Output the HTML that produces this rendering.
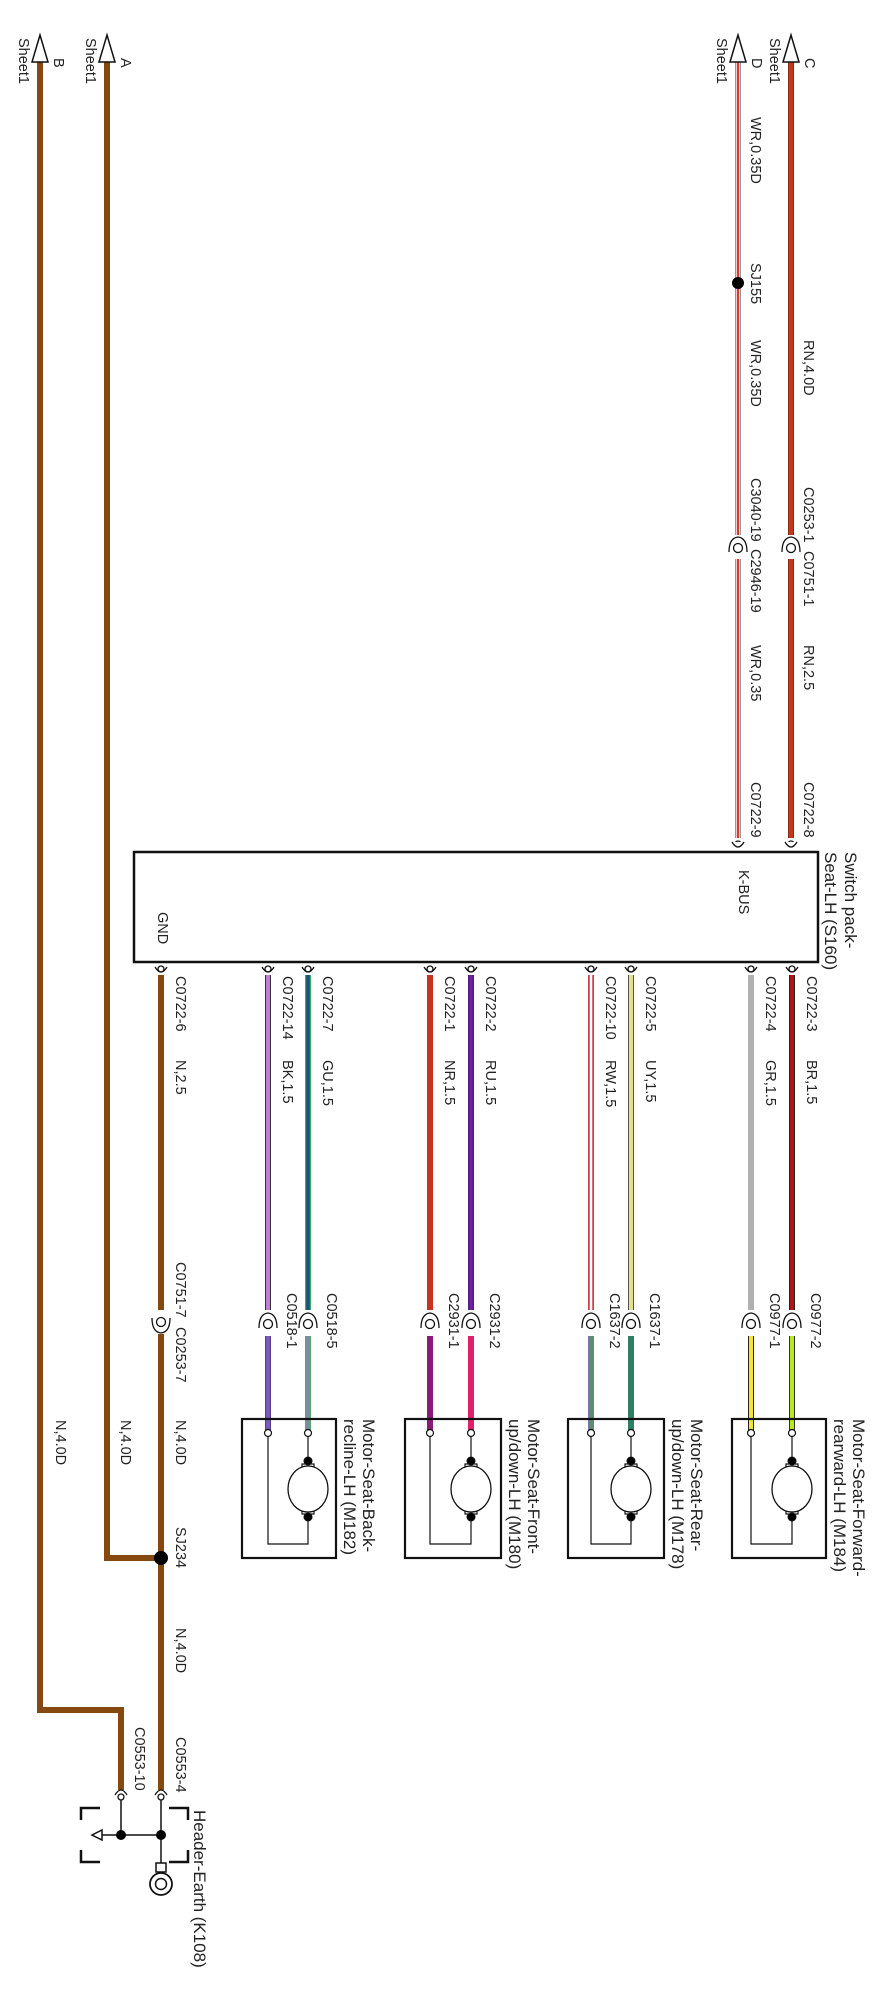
<!DOCTYPE html>
<html><head><meta charset="utf-8"><style>
html,body{margin:0;padding:0;background:#fff;}
svg{display:block;}
text{font-family:"Liberation Sans",sans-serif;font-size:14.5px;fill:#222;}
.big{font-size:17px;}
</style></head><body>
<svg width="878" height="2000" viewBox="0 0 878 2000" xmlns="http://www.w3.org/2000/svg">
<g fill="none" stroke-linecap="butt">
<!-- C wire RN -->
<line x1="791" y1="62" x2="791" y2="535" stroke="#8a2a10" stroke-width="6"/>
<line x1="791" y1="62" x2="791" y2="535" stroke="#c0391e" stroke-width="4"/>
<line x1="791" y1="559" x2="791" y2="838" stroke="#8a2a10" stroke-width="6"/>
<line x1="791" y1="559" x2="791" y2="838" stroke="#c0391e" stroke-width="4"/>
<!-- D wire WR -->
<line x1="738" y1="62" x2="738" y2="535" stroke="#999" stroke-width="6"/>
<line x1="738" y1="62" x2="738" y2="535" stroke="#fff" stroke-width="4"/>
<line x1="738" y1="62" x2="738" y2="535" stroke="#d83a30" stroke-width="2.5"/>
<line x1="738" y1="559" x2="738" y2="838" stroke="#999" stroke-width="6"/>
<line x1="738" y1="559" x2="738" y2="838" stroke="#fff" stroke-width="4"/>
<line x1="738" y1="559" x2="738" y2="838" stroke="#d83a30" stroke-width="2.5"/>
<!-- brown wires -->
<polyline points="107,62 107,1558 161,1558" stroke="#85490f" stroke-width="6"/>
<polyline points="40,62 40,1710 121,1710 121,1790" stroke="#85490f" stroke-width="6"/>
<line x1="161" y1="975" x2="161" y2="1310" stroke="#85490f" stroke-width="6"/>
<line x1="161" y1="1334" x2="161" y2="1790" stroke="#85490f" stroke-width="6"/>
<!-- box wires first segment -->
<g>
<line x1="792" y1="975" x2="792" y2="1310" stroke="#222" stroke-width="6"/><line x1="792" y1="975" x2="792" y2="1310" stroke="#b01515" stroke-width="4"/>
<line x1="751" y1="975" x2="751" y2="1310" stroke="#b0b0b0" stroke-width="6"/>
<line x1="631" y1="975" x2="631" y2="1310" stroke="#555" stroke-width="6"/><line x1="631" y1="975" x2="631" y2="1310" stroke="#e6e08a" stroke-width="4"/>
<line x1="591" y1="975" x2="591" y2="1310" stroke="#d04040" stroke-width="6"/><line x1="591" y1="975" x2="591" y2="1310" stroke="#fff" stroke-width="2.5"/>
<line x1="471" y1="975" x2="471" y2="1310" stroke="#5a1a8a" stroke-width="6"/><line x1="471" y1="975" x2="471" y2="1310" stroke="#6d22a0" stroke-width="3"/>
<line x1="430" y1="975" x2="430" y2="1310" stroke="#c8321e" stroke-width="6"/>
<line x1="308" y1="975" x2="308" y2="1310" stroke="#3aa86b" stroke-width="6"/><line x1="308" y1="975" x2="308" y2="1310" stroke="#1e4f7a" stroke-width="3.5"/>
<line x1="268" y1="975" x2="268" y2="1310" stroke="#333" stroke-width="6"/><line x1="268" y1="975" x2="268" y2="1310" stroke="#c080d0" stroke-width="4"/>
</g>
<!-- second segments -->
<g>
<line x1="792" y1="1336" x2="792" y2="1433" stroke="#333" stroke-width="6"/><line x1="792" y1="1336" x2="792" y2="1433" stroke="#b5ea1e" stroke-width="4"/>
<line x1="751" y1="1336" x2="751" y2="1433" stroke="#222" stroke-width="6"/><line x1="751" y1="1336" x2="751" y2="1433" stroke="#f0e830" stroke-width="4"/>
<line x1="631" y1="1336" x2="631" y2="1433" stroke="#2e7f64" stroke-width="6"/>
<line x1="591" y1="1336" x2="591" y2="1433" stroke="#a060c0" stroke-width="6"/><line x1="591" y1="1336" x2="591" y2="1433" stroke="#5e8a78" stroke-width="5"/>
<line x1="471" y1="1336" x2="471" y2="1433" stroke="#e0206a" stroke-width="6"/>
<line x1="430" y1="1336" x2="430" y2="1433" stroke="#8a1a7a" stroke-width="6"/>
<line x1="308" y1="1336" x2="308" y2="1433" stroke="#4ab060" stroke-width="6"/><line x1="308" y1="1336" x2="308" y2="1433" stroke="#7d8da0" stroke-width="4.5"/>
<line x1="268" y1="1336" x2="268" y2="1433" stroke="#5a3a90" stroke-width="6"/><line x1="268" y1="1336" x2="268" y2="1433" stroke="#7a5ab8" stroke-width="4"/>
</g>
</g>

<!-- arrows -->
<g fill="#fff" stroke="#111" stroke-width="1.5">
<polygon points="791,35 783,62 799,62"/>
<polygon points="738,35 730,62 746,62"/>
<polygon points="107,35 99,62 115,62"/>
<polygon points="40,35 32,62 48,62"/>
</g>

<!-- Switch box -->
<rect x="134" y="852" width="684" height="110" fill="#fff" stroke="#111" stroke-width="2.5"/>

<!-- pins & connectors -->
<g fill="#fff" stroke="#111" stroke-width="1.3">
<!-- top pins -->
<circle cx="791" cy="844" r="3"/><path d="M785 842 Q791 852 797 842"/>
<circle cx="738" cy="844" r="3"/><path d="M732 842 Q738 852 744 842"/>
<!-- bottom pins -->
<g>
<circle cx="792" cy="969" r="3"/><path d="M786 967 Q792 977 798 967" fill="none"/>
<circle cx="751" cy="969" r="3"/><path d="M745 967 Q751 977 757 967" fill="none"/>
<circle cx="631" cy="969" r="3"/><path d="M625 967 Q631 977 637 967" fill="none"/>
<circle cx="591" cy="969" r="3"/><path d="M585 967 Q591 977 597 967" fill="none"/>
<circle cx="471" cy="969" r="3"/><path d="M465 967 Q471 977 477 967" fill="none"/>
<circle cx="430" cy="969" r="3"/><path d="M424 967 Q430 977 436 967" fill="none"/>
<circle cx="308" cy="969" r="3"/><path d="M302 967 Q308 977 314 967" fill="none"/>
<circle cx="268" cy="969" r="3"/><path d="M262 967 Q268 977 274 967" fill="none"/>
<circle cx="161" cy="969" r="3"/><path d="M155 967 Q161 977 167 967" fill="none"/>
</g>
<!-- inline connectors -->
<g>
<circle cx="791" cy="548" r="4.5"/><path d="M782 552 Q782 538 791 537 Q800 538 800 552" fill="none"/>
<circle cx="738" cy="548" r="4.5"/><path d="M729 552 Q729 538 738 537 Q747 538 747 552" fill="none"/>
<circle cx="792" cy="1324" r="4.5"/><path d="M783 1328 Q783 1314 792 1313 Q801 1314 801 1328" fill="none"/>
<circle cx="751" cy="1324" r="4.5"/><path d="M742 1328 Q742 1314 751 1313 Q760 1314 760 1328" fill="none"/>
<circle cx="631" cy="1324" r="4.5"/><path d="M622 1328 Q622 1314 631 1313 Q640 1314 640 1328" fill="none"/>
<circle cx="591" cy="1324" r="4.5"/><path d="M582 1328 Q582 1314 591 1313 Q600 1314 600 1328" fill="none"/>
<circle cx="471" cy="1324" r="4.5"/><path d="M462 1328 Q462 1314 471 1313 Q480 1314 480 1328" fill="none"/>
<circle cx="430" cy="1324" r="4.5"/><path d="M421 1328 Q421 1314 430 1313 Q439 1314 439 1328" fill="none"/>
<circle cx="308" cy="1324" r="4.5"/><path d="M299 1328 Q299 1314 308 1313 Q317 1314 317 1328" fill="none"/>
<circle cx="268" cy="1324" r="4.5"/><path d="M259 1328 Q259 1314 268 1313 Q277 1314 277 1328" fill="none"/>
<circle cx="161" cy="1322" r="4.5"/><path d="M152 1318 Q152 1332 161 1333 Q170 1332 170 1318" fill="none"/>
</g>
<!-- ground connectors -->
<circle cx="121" cy="1797" r="3"/><path d="M115 1795 Q121 1785 127 1795" fill="none"/>
<circle cx="161" cy="1797" r="3"/><path d="M155 1795 Q161 1785 167 1795" fill="none"/>
</g>

<!-- splice dots -->
<circle cx="738" cy="283" r="6" fill="#000"/>
<circle cx="161" cy="1558" r="7" fill="#000"/>

<!-- motors -->
<g stroke="#111" fill="none">
<g id="m1">
<rect x="732" y="1419" width="94" height="139" stroke-width="2.2"/>
<polyline points="751,1433 751,1544 792,1544 792,1517" stroke-width="1.2"/>
<line x1="792" y1="1433" x2="792" y2="1461" stroke-width="1.2"/>
<rect x="786" y="1464" width="12" height="8" stroke-width="1.2"/>
<rect x="786" y="1506" width="12" height="8" stroke-width="1.2"/>
<ellipse cx="792" cy="1489" rx="20" ry="23" fill="#fff" stroke-width="1.3"/>
<circle cx="792" cy="1461" r="4" fill="#000"/><circle cx="792" cy="1517" r="4" fill="#000"/>
<circle cx="751" cy="1433" r="3.5" fill="#fff" stroke-width="1.2"/><circle cx="792" cy="1433" r="3.5" fill="#fff" stroke-width="1.2"/>
</g>
<g>
<rect x="568" y="1419" width="96" height="139" stroke-width="2.2"/>
<polyline points="591,1433 591,1544 631,1544 631,1517" stroke-width="1.2"/>
<line x1="631" y1="1433" x2="631" y2="1461" stroke-width="1.2"/>
<rect x="625" y="1464" width="12" height="8" stroke-width="1.2"/>
<rect x="625" y="1506" width="12" height="8" stroke-width="1.2"/>
<ellipse cx="631" cy="1489" rx="20" ry="23" fill="#fff" stroke-width="1.3"/>
<circle cx="631" cy="1461" r="4" fill="#000"/><circle cx="631" cy="1517" r="4" fill="#000"/>
<circle cx="591" cy="1433" r="3.5" fill="#fff" stroke-width="1.2"/><circle cx="631" cy="1433" r="3.5" fill="#fff" stroke-width="1.2"/>
</g>
<g>
<rect x="405" y="1419" width="96" height="139" stroke-width="2.2"/>
<polyline points="430,1433 430,1544 471,1544 471,1517" stroke-width="1.2"/>
<line x1="471" y1="1433" x2="471" y2="1461" stroke-width="1.2"/>
<rect x="465" y="1464" width="12" height="8" stroke-width="1.2"/>
<rect x="465" y="1506" width="12" height="8" stroke-width="1.2"/>
<ellipse cx="471" cy="1489" rx="20" ry="23" fill="#fff" stroke-width="1.3"/>
<circle cx="471" cy="1461" r="4" fill="#000"/><circle cx="471" cy="1517" r="4" fill="#000"/>
<circle cx="430" cy="1433" r="3.5" fill="#fff" stroke-width="1.2"/><circle cx="471" cy="1433" r="3.5" fill="#fff" stroke-width="1.2"/>
</g>
<g>
<rect x="242" y="1419" width="94" height="139" stroke-width="2.2"/>
<polyline points="268,1433 268,1544 308,1544 308,1517" stroke-width="1.2"/>
<line x1="308" y1="1433" x2="308" y2="1461" stroke-width="1.2"/>
<rect x="302" y="1464" width="12" height="8" stroke-width="1.2"/>
<rect x="302" y="1506" width="12" height="8" stroke-width="1.2"/>
<ellipse cx="308" cy="1489" rx="20" ry="23" fill="#fff" stroke-width="1.3"/>
<circle cx="308" cy="1461" r="4" fill="#000"/><circle cx="308" cy="1517" r="4" fill="#000"/>
<circle cx="268" cy="1433" r="3.5" fill="#fff" stroke-width="1.2"/><circle cx="308" cy="1433" r="3.5" fill="#fff" stroke-width="1.2"/>
</g>
</g>

<!-- earth -->
<g stroke="#111" stroke-width="1.5" fill="none">
<line x1="121" y1="1800" x2="121" y2="1835"/>
<line x1="161" y1="1800" x2="161" y2="1863"/>
<line x1="100" y1="1835" x2="161" y2="1835"/>
<polygon points="92,1835 102,1830 102,1840" fill="#fff"/>
<rect x="156" y="1863" width="10" height="9"/>
<circle cx="161" cy="1884" r="11" stroke-width="1.8"/>
<circle cx="161" cy="1884" r="5.5" stroke-width="1.5"/>
<polyline points="100,1808 81,1808 81,1820" stroke-width="2.5"/>
<polyline points="81,1850 81,1862 100,1862" stroke-width="2.5"/>
<polyline points="169,1808 188,1808 188,1820" stroke-width="2.5"/>
<polyline points="188,1850 188,1862 169,1862" stroke-width="2.5"/>
</g>
<circle cx="121" cy="1835" r="5" fill="#000"/>
<circle cx="161" cy="1835" r="5" fill="#000"/>

<!-- text -->
<g>
<text transform="translate(805,58) rotate(90)">C</text>
<text transform="translate(770,38) rotate(90)">Sheet1</text>
<text transform="translate(752,58) rotate(90)">D</text>
<text transform="translate(717,38) rotate(90)">Sheet1</text>
<text transform="translate(121,58) rotate(90)">A</text>
<text transform="translate(86,38) rotate(90)">Sheet1</text>
<text transform="translate(54,58) rotate(90)">B</text>
<text transform="translate(19,38) rotate(90)">Sheet1</text>

<text transform="translate(804,340) rotate(90)">RN,4.0D</text>
<text transform="translate(804,487) rotate(90)">C0253-1</text>
<text transform="translate(804,551) rotate(90)">C0751-1</text>
<text transform="translate(804,645) rotate(90)">RN,2.5</text>
<text transform="translate(804,782) rotate(90)">C0722-8</text>

<text transform="translate(751,117) rotate(90)">WR,0.35D</text>
<text transform="translate(751,263) rotate(90)">SJ155</text>
<text transform="translate(751,340) rotate(90)">WR,0.35D</text>
<text transform="translate(751,478) rotate(90)">C3040-19</text>
<text transform="translate(751,549) rotate(90)">C2946-19</text>
<text transform="translate(751,645) rotate(90)">WR,0.35</text>
<text transform="translate(751,782) rotate(90)">C0722-9</text>

<text class="big" transform="translate(845,852) rotate(90)">Switch pack-</text>
<text class="big" transform="translate(825,852) rotate(90)">Seat-LH (S160)</text>
<text transform="translate(739,870) rotate(90)">K-BUS</text>
<text transform="translate(158,912) rotate(90)">GND</text>

<text transform="translate(807,976) rotate(90)">C0722-3</text><text transform="translate(807,1060) rotate(90)">BR,1.5</text>
<text transform="translate(766,976) rotate(90)">C0722-4</text><text transform="translate(766,1060) rotate(90)">GR,1.5</text>
<text transform="translate(646,976) rotate(90)">C0722-5</text><text transform="translate(646,1060) rotate(90)">UY,1.5</text>
<text transform="translate(606,976) rotate(90)">C0722-10</text><text transform="translate(606,1060) rotate(90)">RW,1.5</text>
<text transform="translate(486,976) rotate(90)">C0722-2</text><text transform="translate(486,1060) rotate(90)">RU,1.5</text>
<text transform="translate(445,976) rotate(90)">C0722-1</text><text transform="translate(445,1060) rotate(90)">NR,1.5</text>
<text transform="translate(323,976) rotate(90)">C0722-7</text><text transform="translate(323,1060) rotate(90)">GU,1.5</text>
<text transform="translate(283,976) rotate(90)">C0722-14</text><text transform="translate(283,1060) rotate(90)">BK,1.5</text>
<text transform="translate(176,976) rotate(90)">C0722-6</text><text transform="translate(176,1060) rotate(90)">N,2.5</text>

<text transform="translate(811,1293) rotate(90)">C0977-2</text>
<text transform="translate(770,1293) rotate(90)">C0977-1</text>
<text transform="translate(650,1293) rotate(90)">C1637-1</text>
<text transform="translate(610,1293) rotate(90)">C1637-2</text>
<text transform="translate(490,1293) rotate(90)">C2931-2</text>
<text transform="translate(449,1293) rotate(90)">C2931-1</text>
<text transform="translate(327,1293) rotate(90)">C0518-5</text>
<text transform="translate(287,1293) rotate(90)">C0518-1</text>

<text transform="translate(176,1262) rotate(90)">C0751-7</text>
<text transform="translate(176,1327) rotate(90)">C0253-7</text>
<text transform="translate(176,1420) rotate(90)">N,4.0D</text>
<text transform="translate(121,1420) rotate(90)">N,4.0D</text>
<text transform="translate(56,1420) rotate(90)">N,4.0D</text>
<text transform="translate(176,1527) rotate(90)">SJ234</text>
<text transform="translate(176,1628) rotate(90)">N,4.0D</text>
<text transform="translate(176,1737) rotate(90)">C0553-4</text>
<text transform="translate(135,1727) rotate(90)">C0553-10</text>

<text class="big" transform="translate(853,1419) rotate(90)">Motor-Seat-Forward-</text>
<text class="big" transform="translate(834,1419) rotate(90)">rearward-LH (M184)</text>
<text class="big" transform="translate(691,1419) rotate(90)">Motor-Seat-Rear-</text>
<text class="big" transform="translate(672,1419) rotate(90)">up/down-LH (M178)</text>
<text class="big" transform="translate(528,1419) rotate(90)">Motor-Seat-Front-</text>
<text class="big" transform="translate(509,1419) rotate(90)">up/down-LH (M180)</text>
<text class="big" transform="translate(363,1419) rotate(90)">Motor-Seat-Back-</text>
<text class="big" transform="translate(344,1419) rotate(90)">recline-LH (M182)</text>

<text class="big" transform="translate(194,1810) rotate(90)">Header-Earth (K108)</text>
</g>
</svg>
</body></html>
